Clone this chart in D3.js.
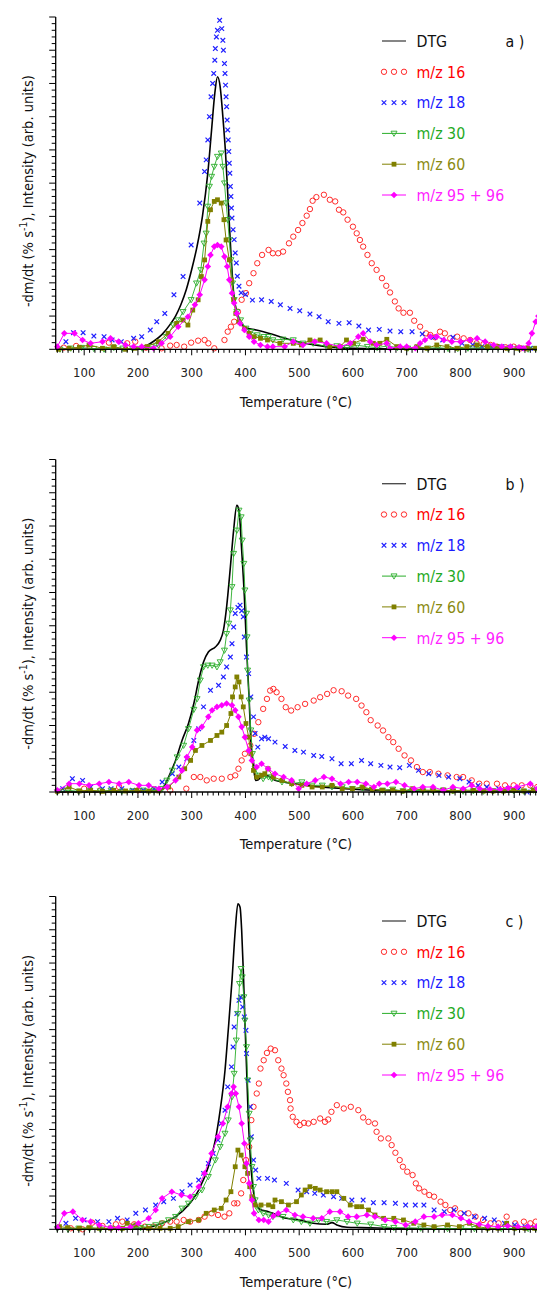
<!DOCTYPE html>
<html><head><meta charset="utf-8">
<script src="https://cdn.jsdelivr.net/npm/d3@7"></script>
<style>body{margin:0;background:#fff}svg{display:block}text{font-family:"DejaVu Sans Condensed","DejaVu Sans",sans-serif}</style>
</head><body>
<svg id="chart" width="537" height="1293"></svg>
<script>
// ---------- labels ----------
const panelLabels = ["a )", "b )", "c )"];
const seriesNames = ["DTG", "m/z 16", "m/z 18", "m/z 30", "m/z 60", "m/z 95 + 96"];
const xTickValues = [100, 200, 300, 400, 500, 600, 700, 800, 900];
const xTitle = "Temperature (\u00B0C)";

// ---------- panel a ----------
const a_dtg = [[47,0],[100,0],[150,0],[200,0.02],[215,0.1],[230,0.25],[245,0.45],[260,0.75],[270,1.0],[280,1.35],[290,1.8],[300,2.4],[310,3.1],[320,4.0],[330,5.3],[337,6.6],[343,7.7],[348,8.2],[353,7.9],[358,7.0],[363,5.9],[368,4.4],[373,2.9],[378,1.7],[384,1.1],[390,0.85],[400,0.65],[420,0.58],[450,0.45],[480,0.3],[510,0.18],[550,0.08],[600,0.03],[700,0.01],[943,0]];
const a_m16 = [[62,0.05],[85,0.1],[110,0.08],[146,0.2],[180,0.18],[195,0.23],[215,0.05],[244,0.03],[260,0.11],[272,0.13],[286,0.08],[299,0.2],[312,0.26],[324,0.28],[331,0.18],[342,0.03],[361,0.28],[367,0.53],[373,0.68],[379,0.83],[386,1.13],[393,1.49],[401,1.69],[407,1.99],[415,2.29],[422,2.59],[431,2.84],[443,2.99],[451,2.89],[461,2.89],[470,2.94],[481,3.19],[489,3.39],[498,3.59],[506,3.8],[514,4.02],[520,4.22],[525,4.47],[532,4.58],[546,4.65],[557,4.5],[567,4.45],[574,4.2],[582,4.12],[590,3.9],[600,3.69],[607,3.49],[613,3.29],[619,3.09],[627,2.84],[635,2.59],[644,2.39],[654,2.14],[662,1.91],[669,1.71],[678,1.44],[685,1.23],[694,1.1],[706,1.1],[714,0.86],[725,0.68],[736,0.48],[744,0.43],[753,0.36],[762,0.53],[771,0.48],[781,0.33],[794,0.38],[806,0.33],[818,0.28],[830,0.18],[843,0.16],[856,0.13],[868,0.08],[884,0.06],[899,0.08],[912,0.03],[924,0.03]];
const a_m18 = [[66,0.23],[80,0.5],[98,0.5],[118,0.4],[137,0.38],[152,0.28],[169,0.23],[192,0.33],[207,0.38],[223,0.58],[235,0.83],[250,1.08],[267,1.64],[284,2.19],[299,3.14],[315,4.4],[324,5.35],[327,5.7],[330,6.3],[333,7.0],[336,7.6],[339,8.0],[341,8.3],[343,8.7],[344,9.05],[346,9.4],[348,9.6],[352,9.9],[356,9.65],[358,9.3],[359,9.0],[361,8.6],[362,8.3],[363,7.95],[364,7.6],[365,7.3],[366,6.9],[367,6.6],[368,6.3],[369,5.95],[370,5.6],[371,5.3],[372,4.9],[373,4.6],[374,4.25],[375,3.95],[377,3.6],[379,3.3],[381,2.9],[383,2.6],[385,2.2],[388,1.9],[392,1.7],[400,1.65],[413,1.48],[430,1.49],[448,1.44],[465,1.34],[483,1.23],[501,1.16],[520,1.06],[537,0.98],[554,0.83],[574,0.78],[593,0.8],[611,0.7],[629,0.58],[649,0.6],[669,0.55],[689,0.53],[710,0.53],[729,0.46],[750,0.36],[767,0.28],[786,0.36],[803,0.18],[823,0.13],[840,0.08],[859,0.08],[877,0.08],[893,0.06],[912,0.03],[930,0.03]];
const a_m30 = [[55,0.0],[75,0.03],[95,0.05],[118,0.02],[137,0.0],[155,0.05],[172,0.03],[190,0.02],[208,0.03],[225,0.08],[238,0.13],[253,0.38],[266,0.73],[275,0.88],[284,1.13],[299,1.49],[309,1.99],[317,2.39],[323,3.19],[327,3.49],[330,4.3],[333,4.9],[337,5.2],[342,5.5],[348,5.8],[355,5.9],[358,5.5],[361,5.0],[364,4.4],[367,3.9],[370,3.29],[373,2.69],[376,1.99],[379,1.49],[384,1.13],[391,0.88],[401,0.63],[410,0.53],[422,0.43],[434,0.38],[443,0.38],[451,0.28],[470,0.3],[489,0.28],[507,0.18],[526,0.18],[551,0.08],[570,0.1],[589,0.05],[608,0.12],[627,0.08],[645,0.05],[664,0.1],[683,0.05],[702,0.03],[720,0.05],[739,0.03],[758,0.05],[777,0.02],[795,0.02],[814,0.03],[833,0.05],[851,0.03],[870,0.05],[889,0.02],[908,0.03],[926,0.0],[940,0.02]];
const a_m60 = [[52,0.0],[72,0.03],[91,0.06],[109,0.13],[134,0.03],[155,0.08],[177,0.0],[195,0.03],[217,0.08],[238,0.23],[256,0.48],[272,0.78],[284,0.88],[293,0.73],[302,1.18],[312,1.49],[318,2.19],[324,2.69],[330,3.85],[335,4.2],[342,4.45],[348,4.5],[355,4.4],[360,3.9],[364,3.29],[370,2.69],[374,2.09],[378,1.49],[382,1.08],[388,0.83],[398,0.63],[407,0.48],[416,0.38],[428,0.33],[441,0.28],[464,0.18],[489,0.18],[504,0.13],[520,0.28],[539,0.28],[557,0.08],[576,0.08],[588,0.28],[601,0.18],[619,0.3],[638,0.18],[650,0.18],[663,0.3],[682,0.08],[700,0.03],[719,0.08],[738,0.03],[756,0.13],[775,0.08],[794,0.03],[812,0.08],[831,0.13],[850,0.08],[868,0.08],[887,0.03],[905,0.03],[924,0.03],[940,0.03]];
const a_m95 = [[50,0.08],[63,0.48],[82,0.48],[97,0.28],[112,0.18],[134,0.23],[149,0.33],[164,0.23],[177,0.13],[192,0.08],[207,0.08],[229,0.03],[244,0.18],[260,0.38],[275,0.68],[293,0.98],[306,1.34],[315,1.64],[324,2.09],[330,2.49],[335,2.84],[342,3.09],[348,3.14],[355,3.09],[361,2.79],[366,2.49],[370,2.09],[375,1.69],[379,1.39],[384,1.08],[390,0.78],[398,0.58],[407,0.38],[416,0.23],[428,0.13],[441,0.08],[451,0.08],[473,0.08],[489,0.23],[507,0.13],[529,0.23],[551,0.18],[576,0.08],[595,0.18],[610,0.38],[619,0.48],[632,0.23],[644,0.13],[663,0.18],[669,0.03],[688,0.08],[700,0.08],[716,0.03],[725,0.18],[734,0.28],[744,0.38],[756,0.38],[769,0.28],[784,0.23],[800,0.23],[818,0.28],[831,0.33],[846,0.23],[862,0.13],[877,0.08],[893,0.08],[909,0.06],[918,0.03],[927,0.18],[933,0.48],[940,0.83],[945,1.0]];

// ---------- panel b ----------
const b_dtg = [[47,0],[100,0],[150,0],[200,0],[238,0.02],[245,0.08],[257,0.45],[270,0.95],[282,1.55],[294,2.06],[304,2.66],[313,3.36],[322,3.91],[331,4.21],[344,4.36],[353,4.56],[359,4.86],[365,5.57],[372,6.77],[378,7.87],[384,8.62],[388,8.47],[393,7.27],[398,5.87],[402,4.36],[407,2.76],[410,1.55],[415,0.75],[419,0.35],[424,0.37],[433,0.5],[443,0.48],[455,0.35],[492,0.25],[530,0.17],[586,0.1],[649,0.05],[750,0.02],[943,0]];
const b_m16 = [[70,0.05],[100,0.1],[130,0.05],[165,0.15],[200,0.05],[230,0.08],[260,0.05],[290,0.1],[304,0.45],[316,0.45],[328,0.35],[341,0.4],[356,0.4],[372,0.45],[381,0.5],[387,0.7],[393,0.95],[399,1.15],[409,1.4],[416,1.75],[424,2.1],[433,2.5],[440,2.8],[446,3.05],[452,3.1],[458,3.0],[467,2.8],[475,2.55],[485,2.45],[497,2.55],[511,2.65],[527,2.75],[539,2.85],[552,2.95],[564,3.06],[579,3.03],[591,2.9],[606,2.8],[616,2.6],[625,2.4],[633,2.16],[646,2.0],[656,1.85],[666,1.65],[675,1.5],[685,1.3],[696,1.1],[708,0.95],[719,0.75],[730,0.6],[743,0.6],[759,0.55],[776,0.5],[793,0.45],[805,0.45],[821,0.35],[835,0.25],[849,0.25],[868,0.25],[883,0.2],[899,0.2],[914,0.2],[930,0.2],[943,0.15]];
const b_m18 = [[60,0.1],[78,0.4],[97,0.35],[112,0.15],[134,0.1],[150,0.1],[170,0.1],[190,0.05],[210,0.05],[230,0.1],[245,0.3],[264,0.55],[276,0.75],[291,1.0],[304,1.55],[313,1.9],[322,2.56],[335,3.06],[350,3.21],[359,3.46],[365,3.76],[372,4.06],[375,4.46],[378,4.96],[381,5.37],[386,5.55],[390,5.62],[393,5.45],[396,5.27],[398,4.66],[402,4.06],[406,3.56],[410,2.86],[415,2.26],[418,1.76],[423,1.35],[430,1.6],[436,1.65],[443,1.6],[455,1.5],[474,1.37],[492,1.25],[508,1.2],[527,1.1],[542,1.07],[561,1.0],[578,0.85],[597,0.85],[616,0.95],[633,0.85],[652,0.8],[669,0.75],[687,0.73],[705,0.8],[722,0.65],[741,0.55],[760,0.5],[778,0.45],[799,0.4],[816,0.3],[833,0.2],[849,0.15],[871,0.1],[889,0.1],[908,0.08],[924,0.0],[939,0.05]];
const b_m30 = [[50,0.0],[70,0.05],[90,0.02],[110,0.05],[130,0.03],[150,0.05],[170,0.02],[190,0.03],[210,0.05],[230,0.05],[245,0.1],[254,0.35],[264,0.65],[273,1.05],[285,1.4],[294,1.9],[304,2.48],[310,2.8],[316,3.36],[322,3.76],[330,3.81],[338,3.81],[347,3.76],[353,3.91],[361,4.26],[365,4.76],[369,5.07],[372,5.47],[375,6.17],[378,7.17],[384,7.87],[388,8.47],[392,8.27],[394,7.57],[397,6.87],[399,6.07],[402,5.37],[403,4.66],[404,3.66],[407,2.76],[410,1.86],[413,1.15],[418,0.7],[424,0.5],[433,0.4],[443,0.45],[449,0.4],[468,0.3],[486,0.25],[505,0.3],[524,0.2],[543,0.2],[561,0.15],[580,0.15],[599,0.1],[618,0.12],[636,0.08],[655,0.05],[674,0.08],[693,0.03],[711,0.05],[730,0.03],[749,0.03],[768,0.05],[786,0.03],[805,0.02],[824,0.03],[843,0.02],[861,0.03],[880,0.02],[899,0.03],[918,0.02],[936,0.05]];
const b_m60 = [[50,0.02],[72,0.15],[91,0.03],[112,0.05],[134,0.02],[155,0.05],[177,0.03],[198,0.05],[220,0.03],[239,0.03],[257,0.15],[276,0.45],[287,0.7],[298,0.95],[307,1.25],[319,1.4],[335,1.55],[347,1.7],[356,1.8],[365,2.0],[373,2.36],[376,2.86],[381,3.16],[384,3.46],[388,3.31],[392,2.86],[396,2.56],[401,2.06],[406,1.65],[410,1.15],[415,0.65],[421,0.45],[430,0.5],[436,0.55],[442,0.7],[452,0.45],[468,0.35],[486,0.25],[505,0.2],[524,0.15],[543,0.15],[561,0.2],[580,0.1],[599,0.1],[618,0.15],[636,0.08],[655,0.05],[674,0.06],[693,0.03],[711,0.1],[730,0.06],[749,0.05],[768,0.06],[786,0.03],[805,0.06],[824,0.05],[843,0.03],[861,0.03],[880,0.03],[899,0.05],[918,0.03],[936,0.05]];
const b_m95 = [[50,0.05],[72,0.25],[91,0.25],[109,0.2],[128,0.25],[146,0.3],[165,0.25],[183,0.3],[202,0.2],[220,0.2],[239,0.1],[254,0.15],[270,0.35],[282,0.65],[291,1.05],[301,1.35],[310,1.86],[319,1.96],[331,2.26],[338,2.46],[347,2.56],[356,2.61],[365,2.66],[375,2.61],[381,2.46],[387,2.26],[393,1.96],[399,1.65],[406,1.25],[412,0.95],[421,0.75],[430,0.85],[442,0.7],[455,0.55],[471,0.45],[486,0.35],[499,0.1],[514,0.25],[530,0.35],[546,0.45],[561,0.4],[577,0.25],[592,0.3],[608,0.3],[624,0.25],[639,0.15],[649,0.25],[664,0.25],[680,0.3],[696,0.2],[714,0.1],[730,0.15],[749,0.15],[768,0.05],[786,0.15],[805,0.1],[821,0.2],[836,0.1],[855,0.08],[874,0.08],[889,0.12],[905,0.15],[930,0.25],[943,0.1]];

// ---------- panel c ----------
const c_dtg = [[47,0],[150,0],[200,0.01],[213,0.03],[245,0.18],[270,0.38],[294,0.73],[313,1.18],[331,1.88],[344,2.68],[353,3.58],[362,4.78],[368,5.98],[375,7.48],[381,8.98],[386,9.78],[390,9.68],[393,8.98],[396,7.78],[399,6.28],[402,4.88],[405,3.48],[409,2.18],[413,1.38],[418,0.88],[427,0.6],[443,0.53],[451,0.48],[476,0.33],[501,0.28],[526,0.18],[551,0.15],[561,0.2],[570,0.13],[589,0.06],[614,0.05],[645,0.04],[700,0.02],[800,0.01],[943,0]];
const c_m16 = [[75,0.03],[97,0.0],[115,0.2],[134,0.1],[159,0.15],[171,0.23],[193,0.15],[213,0.08],[229,0.08],[245,0.18],[260,0.23],[272,0.23],[285,0.28],[297,0.23],[313,0.28],[324,0.38],[337,0.48],[349,0.43],[361,0.38],[370,0.48],[379,0.78],[385,0.78],[392,1.08],[396,1.48],[401,2.08],[407,2.48],[411,3.28],[415,3.68],[421,4.08],[425,4.38],[428,4.83],[434,5.08],[440,5.3],[447,5.43],[455,5.38],[461,5.08],[467,4.83],[471,4.63],[476,4.38],[479,4.13],[483,3.88],[484,3.63],[488,3.38],[495,3.23],[501,3.13],[509,3.2],[517,3.18],[527,3.23],[539,3.33],[548,3.23],[554,3.3],[560,3.53],[570,3.73],[583,3.63],[596,3.68],[610,3.58],[619,3.36],[629,3.23],[641,3.18],[644,2.93],[652,2.73],[666,2.73],[672,2.53],[679,2.3],[687,2.08],[693,1.88],[701,1.73],[711,1.63],[717,1.38],[723,1.23],[733,1.13],[742,1.03],[751,0.98],[763,0.83],[772,0.73],[781,0.58],[790,0.63],[800,0.48],[815,0.48],[828,0.38],[842,0.28],[856,0.18],[871,0.18],[886,0.38],[902,0.18],[918,0.23],[930,0.18],[940,0.23]];
const c_m18 = [[66,0.18],[84,0.33],[100,0.28],[125,0.23],[146,0.23],[162,0.33],[180,0.28],[196,0.48],[214,0.58],[233,0.73],[248,0.83],[266,0.93],[282,1.13],[297,1.33],[313,1.48],[322,1.68],[331,1.98],[340,2.28],[349,2.68],[355,3.18],[362,3.58],[367,4.28],[374,4.88],[377,5.48],[379,6.08],[384,6.48],[388,6.88],[391,6.98],[395,6.68],[398,6.38],[401,5.98],[402,5.28],[405,4.48],[409,3.68],[411,2.78],[415,2.08],[419,1.78],[425,1.53],[441,1.53],[454,1.48],[476,1.38],[498,1.18],[514,1.13],[529,1.08],[545,1.03],[564,0.98],[579,0.93],[598,0.88],[619,0.88],[638,0.8],[658,0.8],[679,0.78],[698,0.73],[716,0.73],[732,0.73],[751,0.58],[770,0.53],[788,0.58],[807,0.48],[826,0.38],[845,0.33],[863,0.28],[882,0.18],[901,0.13],[920,0.08],[938,0.05]];
const c_m30 = [[50,0.02],[70,0.0],[90,0.03],[110,0.02],[130,0.0],[150,0.03],[170,0.02],[190,0.05],[205,0.05],[220,0.08],[233,0.13],[245,0.18],[257,0.28],[270,0.38],[282,0.63],[294,0.78],[307,0.98],[319,1.18],[331,1.58],[344,2.08],[353,2.48],[362,2.88],[368,3.28],[375,3.98],[379,4.68],[383,5.68],[386,6.48],[389,7.38],[392,7.83],[394,7.58],[397,6.98],[399,6.28],[402,5.48],[404,4.48],[407,3.48],[409,2.68],[412,1.88],[415,1.28],[418,0.88],[424,0.58],[433,0.48],[443,0.43],[451,0.38],[470,0.38],[489,0.28],[504,0.23],[520,0.18],[536,0.28],[551,0.23],[570,0.28],[589,0.23],[608,0.18],[633,0.15],[658,0.08],[676,0.05],[701,0.04],[726,0.03],[751,0.03],[776,0.02],[801,0.03],[826,0.02],[851,0.03],[876,0.02],[901,0.03],[926,0.02],[940,0.02]];
const c_m60 = [[54,0.08],[69,0.05],[91,0.03],[109,0.05],[128,0.03],[149,0.03],[171,0.03],[180,0.18],[196,0.13],[220,0.03],[241,0.03],[260,0.03],[275,0.08],[294,0.23],[313,0.28],[327,0.48],[342,0.58],[355,0.63],[364,0.88],[373,1.13],[381,1.88],[386,2.38],[392,2.23],[399,1.88],[404,1.68],[408,1.28],[412,0.98],[418,0.73],[429,0.73],[443,0.73],[451,0.68],[455,0.88],[467,0.83],[480,0.73],[495,0.83],[504,1.03],[511,1.18],[520,1.28],[530,1.23],[539,1.18],[551,1.13],[561,1.13],[570,1.13],[583,0.93],[595,0.73],[607,0.68],[616,0.68],[629,0.58],[641,0.43],[657,0.33],[676,0.33],[694,0.28],[713,0.18],[732,0.13],[751,0.08],[776,0.13],[798,0.08],[817,0.18],[833,0.08],[851,0.03],[870,0.03],[886,0.18],[901,0.03],[920,0.03],[938,0.03]];
const c_m95 = [[50,0.05],[63,0.48],[79,0.53],[97,0.28],[112,0.23],[128,0.13],[149,0.05],[164,0.05],[186,0.06],[201,0.18],[220,0.33],[233,0.58],[245,0.93],[263,1.13],[281,1.03],[297,0.98],[313,1.28],[324,1.68],[337,2.28],[349,2.78],[358,3.18],[367,3.68],[374,4.08],[378,4.28],[382,4.08],[388,3.68],[393,3.18],[398,2.58],[402,1.98],[407,1.38],[412,0.88],[416,0.48],[425,0.28],[434,0.28],[443,0.23],[452,0.4],[461,0.48],[476,0.58],[492,0.43],[507,0.38],[526,0.33],[542,0.33],[557,0.53],[576,0.53],[591,0.38],[607,0.38],[626,0.43],[641,0.38],[660,0.28],[679,0.23],[698,0.13],[716,0.23],[732,0.38],[751,0.38],[766,0.43],[785,0.43],[801,0.33],[816,0.23],[835,0.15],[851,0.1],[870,0.08],[888,0.1],[907,0.08],[926,0.08],[942,0.08]];

// ---------- drawing ----------
const panels = [
  {label: panelLabels[0], top: 17, bottom: 349.3, series: [a_dtg, a_m16, a_m18, a_m30, a_m60, a_m95]},
  {label: panelLabels[1], top: 459.5, bottom: 792, series: [b_dtg, b_m16, b_m18, b_m30, b_m60, b_m95]},
  {label: panelLabels[2], top: 896.5, bottom: 1229.3, series: [c_dtg, c_m16, c_m18, c_m30, c_m60, c_m95]}
];

const colors = {dtg:"#000000", m16:"#ff2a2a", m18:"#2020ff", m30:"#2aae2a", m60:"#808000", m95:"#ff00ff"};
const textColors = ["#111111", "#ff0000", "#1a1aff", "#1faa1f", "#8a8a10", "#ff22ff"];

const svg = d3.select("#chart");
const x = d3.scaleLinear().domain([47, 943]).range([55.7, 537.3]);

function marker(g, kind, px, py) {
  if (kind === "circle") {
    g.append("circle").attr("cx", px).attr("cy", py).attr("r", 2.7)
      .attr("fill", "none").attr("stroke", colors.m16).attr("stroke-width", 1);
  } else if (kind === "times") {
    const h = 2.3;
    g.append("path").attr("d", `M${px-h},${py-h}L${px+h},${py+h}M${px-h},${py+h}L${px+h},${py-h}`)
      .attr("stroke", colors.m18).attr("stroke-width", 1.2).attr("fill", "none");
  } else if (kind === "tri") {
    g.append("path").attr("d", `M${px-3},${py-2.2}L${px+3},${py-2.2}L${px},${py+3}Z`)
      .attr("fill", "none").attr("stroke", colors.m30).attr("stroke-width", 0.9);
  } else if (kind === "square") {
    g.append("rect").attr("x", px-2.4).attr("y", py-2.4).attr("width", 4.8).attr("height", 4.8)
      .attr("fill", colors.m60);
  } else if (kind === "diamond") {
    const h = 3.3;
    g.append("path").attr("d", `M${px},${py-h}L${px+h},${py}L${px},${py+h}L${px-h},${py}Z`)
      .attr("fill", colors.m95);
  }
}

panels.forEach(p => {
  const y = d3.scaleLinear().domain([0, 10]).range([p.bottom, p.top]);
  const g = svg.append("g");
  const [dtg, m16, m18, m30, m60, m95] = p.series;

  const lineLin = d3.line().x(d => x(d[0])).y(d => y(d[1]));
  const lineSmooth = d3.line().x(d => x(d[0])).y(d => y(d[1])).curve(d3.curveMonotoneX);

  g.append("path").attr("d", lineSmooth(dtg)).attr("fill", "none")
    .attr("stroke", colors.dtg).attr("stroke-width", 1.6);
  m16.forEach(d => marker(g, "circle", x(d[0]), y(d[1])));
  m18.forEach(d => marker(g, "times", x(d[0]), y(d[1])));
  g.append("path").attr("d", lineLin(m30)).attr("fill", "none").attr("stroke", colors.m30).attr("stroke-width", 0.9);
  m30.forEach(d => marker(g, "tri", x(d[0]), y(d[1])));
  g.append("path").attr("d", lineLin(m60)).attr("fill", "none").attr("stroke", colors.m60).attr("stroke-width", 1);
  m60.forEach(d => marker(g, "square", x(d[0]), y(d[1])));
  g.append("path").attr("d", lineLin(m95)).attr("fill", "none").attr("stroke", colors.m95).attr("stroke-width", 1);
  m95.forEach(d => marker(g, "diamond", x(d[0]), y(d[1])));

  // axes
  const ax = svg.append("g");
  ax.append("line").attr("x1", x(47)).attr("x2", 537).attr("y1", p.bottom).attr("y2", p.bottom)
    .attr("stroke", "#000").attr("stroke-width", 1.3);
  ax.append("line").attr("x1", x(47)).attr("x2", x(47)).attr("y1", p.bottom).attr("y2", p.top)
    .attr("stroke", "#000").attr("stroke-width", 1.3);
  d3.range(50, 950, 10).forEach(t => {
    const major = t % 100 === 0;
    ax.append("line").attr("x1", x(t)).attr("x2", x(t)).attr("y1", p.bottom).attr("y2", p.bottom + (major ? 6 : 3.5))
      .attr("stroke", "#000").attr("stroke-width", 1);
  });
  xTickValues.forEach(t => {
    ax.append("text").attr("x", x(t)).attr("y", p.bottom + 27.5).attr("text-anchor", "middle")
      .attr("font-size", 13).attr("fill", "#222").text(t);
  });
  d3.range(0, 51).forEach(i => {
    const v = i * 0.2;
    const major = i % 5 === 0;
    ax.append("line").attr("x1", x(47)).attr("x2", x(47) - (major ? 6.5 : 4)).attr("y1", y(v)).attr("y2", y(v))
      .attr("stroke", "#000").attr("stroke-width", 1);
  });
  ax.append("text").attr("x", 296).attr("y", p.bottom + 57.3).attr("text-anchor", "middle")
    .attr("font-size", 14.5).attr("fill", "#111").text(xTitle);
  const cy = (p.top + p.bottom) / 2 + 8;
  const yt = ax.append("text").attr("transform", `translate(33,${cy}) rotate(-90)`)
    .attr("text-anchor", "middle").attr("font-size", 14.5).attr("fill", "#111");
  yt.append("tspan").text("-dm/dt (% s");
  yt.append("tspan").attr("dy", -6).attr("font-size", 10.5).text("-1");
  yt.append("tspan").attr("dy", 6).text("), Intensity (arb. units)");

  // legend
  const lg = svg.append("g");
  const row0 = p.bottom - 308.3;
  seriesNames.forEach((name, i) => {
    const ry = row0 + i * 30.8;
    const x0 = 382, x1 = 406, xm = 394;
    if (i === 0) {
      lg.append("line").attr("x1", x0).attr("x2", x1).attr("y1", ry).attr("y2", ry).attr("stroke", "#444").attr("stroke-width", 1.3);
    } else if (i === 1) {
      [384, 394, 404].forEach(cx => marker(lg, "circle", cx, ry));
    } else if (i === 2) {
      [384, 394, 404].forEach(cx => marker(lg, "times", cx, ry));
    } else {
      const col = [null, null, null, colors.m30, colors.m60, colors.m95][i];
      lg.append("line").attr("x1", x0).attr("x2", x1).attr("y1", ry).attr("y2", ry).attr("stroke", col).attr("stroke-width", 1);
      marker(lg, ["", "", "", "tri", "square", "diamond"][i], xm, ry);
    }
    lg.append("text").attr("x", 416.5).attr("y", ry + 5.8).attr("font-size", 15.8)
      .attr("fill", textColors[i]).text(name);
  });
  lg.append("text").attr("x", 505.5).attr("y", row0 + 5.8).attr("font-size", 15.8).attr("fill", "#111").text(p.label);
});
</script>
</body></html>
